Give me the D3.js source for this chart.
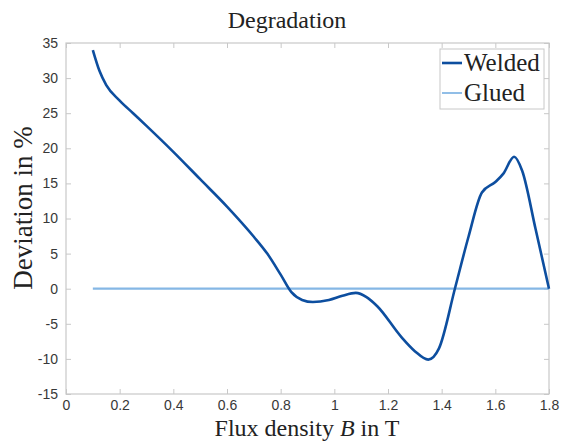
<!DOCTYPE html>
<html>
<head>
<meta charset="utf-8">
<script src="https://cdn.jsdelivr.net/npm/d3@7"></script>
<style>
  body { margin: 0; background: #fff; }
  .tick text { font-family: "Liberation Sans", Arial, sans-serif; font-size: 14px; fill: #383838; }
  .lbl { font-family: "Liberation Serif", "DejaVu Serif", serif; fill: #222; }
</style>
</head>
<body>
<div id="chart"></div>
<script>
// Welded deviation
var fluxWelded = [0.1, 0.125, 0.15, 0.2, 0.25, 0.3, 0.4, 0.5, 0.6, 0.7, 0.75, 0.8, 0.84, 0.88, 0.92, 0.98, 1.03, 1.08, 1.12, 1.16, 1.25, 1.3, 1.35, 1.39, 1.45, 1.5, 1.55, 1.6, 1.63, 1.67, 1.7, 1.75, 1.8];
var devWelded  = [34.0, 31.0, 29.0, 26.8, 25.0, 23.2, 19.5, 15.6, 11.7, 7.4, 5.0, 2.0, -0.5, -1.6, -1.9, -1.6, -1.0, -0.6, -1.2, -2.5, -6.9, -8.9, -10.1, -8.5, 0.1, 7.4, 13.7, 15.2, 16.4, 18.8, 16.8, 8.5, 0.0];
// Glued is flat zero
var fluxGlued = [0.1, 1.8];
var devGlued  = [0, 0];

var xTicks = [0, 0.2, 0.4, 0.6, 0.8, 1, 1.2, 1.4, 1.6, 1.8];
var yTicks = [-15, -10, -5, 0, 5, 10, 15, 20, 25, 30, 35];
var seriesNames = ["Welded", "Glued"];
var seriesColors = ["#0d4e9f", "#85b7e5"];

var svg = d3.select("#chart").append("svg")
    .attr("width", 561)
    .attr("height", 441);

var margin = {top: 43, right: 12, bottom: 47, left: 66};
var width = 561 - margin.left - margin.right;
var height = 441 - margin.top - margin.bottom;

var x = d3.scaleLinear().domain([0, 1.8]).range([0, width]);
var y = d3.scaleLinear().domain([-15, 35]).range([height, 0]);

var g = svg.append("g")
    .attr("transform", "translate(" + margin.left + "," + margin.top + ")");

// box
g.append("rect")
    .attr("width", width)
    .attr("height", height)
    .attr("fill", "none")
    .attr("stroke", "#c8c8c8")
    .attr("stroke-width", 1.2);

function styleAxis(sel, hideText) {
  sel.select(".domain").remove();
  sel.selectAll(".tick line").attr("stroke", "#c8c8c8");
  if (hideText) sel.selectAll(".tick text").remove();
}
var plain = function(d) { return String(d); };

g.append("g")
    .attr("transform", "translate(0," + height + ")")
    .call(d3.axisBottom(x).tickValues(xTicks).tickSize(-5).tickPadding(6).tickFormat(plain))
    .call(styleAxis, false);
g.append("g")
    .call(d3.axisTop(x).tickValues(xTicks).tickSize(-5))
    .call(styleAxis, true);
g.append("g")
    .call(d3.axisLeft(y).tickValues(yTicks).tickSize(-5).tickPadding(8).tickFormat(plain))
    .call(styleAxis, false);
g.append("g")
    .attr("transform", "translate(" + width + ",0)")
    .call(d3.axisRight(y).tickValues(yTicks).tickSize(-5))
    .call(styleAxis, true);

var line = d3.line()
    .x(function(d) { return x(d[0]); })
    .y(function(d) { return y(d[1]); })
    .curve(d3.curveMonotoneX);

g.append("path")
    .datum(d3.zip(fluxGlued, devGlued))
    .attr("fill", "none")
    .attr("stroke", seriesColors[1])
    .attr("stroke-width", 2.2)
    .attr("d", line);

g.append("path")
    .datum(d3.zip(fluxWelded, devWelded))
    .attr("fill", "none")
    .attr("stroke", seriesColors[0])
    .attr("stroke-width", 2.6)
    .attr("d", line);

// legend
var lg = svg.append("g").attr("transform", "translate(440,49)");
lg.append("rect")
    .attr("width", 104)
    .attr("height", 60)
    .attr("fill", "#fff")
    .attr("stroke", "#c8c8c8");
seriesNames.forEach(function(name, i) {
  lg.append("line")
      .attr("x1", 2).attr("x2", 22)
      .attr("y1", 14 + i * 30).attr("y2", 14 + i * 30)
      .attr("stroke", seriesColors[i])
      .attr("stroke-width", i === 0 ? 2.6 : 1.8);
  lg.append("text")
      .attr("class", "lbl")
      .attr("x", 24)
      .attr("y", 22 + i * 30)
      .style("font-size", "25px")
      .text(name);
});

// title and labels
svg.append("text")
    .attr("class", "lbl")
    .attr("x", 287)
    .attr("y", 28)
    .attr("text-anchor", "middle")
    .style("font-size", "24px")
    .text("Degradation");

var xl = svg.append("text")
    .attr("class", "lbl")
    .attr("x", 307)
    .attr("y", 436)
    .attr("text-anchor", "middle")
    .style("font-size", "24px");
xl.append("tspan").text("Flux density ");
xl.append("tspan").style("font-style", "italic").text("B");
xl.append("tspan").text(" in T");

svg.append("text")
    .attr("class", "lbl")
    .attr("transform", "translate(32,208) rotate(-90)")
    .attr("text-anchor", "middle")
    .style("font-size", "27px")
    .text("Deviation in %");
</script>
</body>
</html>
